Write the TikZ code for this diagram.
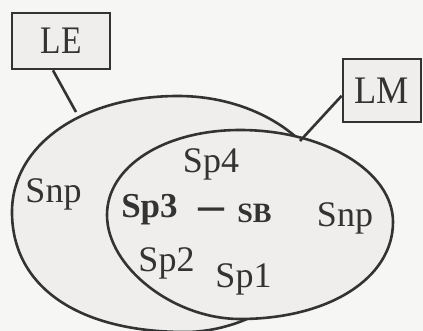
\documentclass[tikz,border=0pt]{standalone}
\usepackage{fontspec}
\setmainfont{Liberation Serif}
\usetikzlibrary{calc}
\definecolor{ink}{HTML}{333333}
\definecolor{paper}{HTML}{F6F6F5}
\definecolor{shade}{HTML}{EFEEEC}
\tikzset{
  outline/.style={draw=ink, line width=2.6pt, fill=shade},
  pointer/.style={draw=ink, line width=2.6pt},
  labelbox/.style={outline, rectangle, inner sep=0pt, font=\fontsize{39}{39}\selectfont, text=ink},
  lbl/.style={anchor=base, inner sep=0pt, text=ink, font=\fontsize{36}{36}\selectfont},
  lblb/.style={anchor=base, inner sep=0pt, text=ink, font=\fontsize{35}{35}\selectfont\bfseries},
}
\begin{document}
\begin{tikzpicture}[x=1pt,y=-1pt]
\useasboundingbox[fill=paper] (0,0) rectangle (423,331);
% big region LE
\draw[outline] (12,212) .. controls (12,145) and (82,96) .. (178,96)
  .. controls (264,96) and (335,150) .. (335,215)
  .. controls (335,270) and (262,332) .. (185,332)
  .. controls (77.7,332) and (12,286.4) .. (12,212) -- cycle;
\coordinate (leEnd) at (76,112);
\coordinate (lmEnd) at (300,141);
% small region LM
\draw[outline] (107,215) .. controls (107,166.5) and (164.2,130) .. (240,130)
  .. controls (324,130) and (393,171.4) .. (393,222)
  .. controls (393,278.3) and (328.7,319) .. (240,319)
  .. controls (173.5,319) and (107,267) .. (107,215) -- cycle;
% boxes
\node[labelbox, minimum width=98pt, minimum height=56pt] (LE) at (61,41) {\scalebox{0.86}[1]{LE}};
\node[labelbox, minimum width=78pt, minimum height=63pt] (LM) at (382,90.5) {\scalebox{0.93}[1]{LM}};
% pointers
\draw[pointer] ($(LE.south west)!0.42!(LE.south east)$) -- (leEnd);
\draw[pointer] ($(LM.north west)!0.58!(LM.south west)$) -- (lmEnd);
% labels
\node[lbl] (snpL) at (53.5,203) {Snp};
\node[lbl] (sp4) at (211,173) {Sp4};
\node[lblb] (sp3) at (149.5,218) {Sp3};
\node[anchor=center, inner sep=0pt, text=ink, font=\fontsize{26}{26}\selectfont\bfseries] (dash) at (211,214) {\scalebox{1}[1.8]{—}};
\node[anchor=base, inner sep=0pt, text=ink, font=\fontsize{28}{28}\selectfont\bfseries] (sb) at (254.5,223) {SB};
\node[lbl] (snpR) at (345,227) {Snp};
\node[lbl] (sp2) at (166.5,272) {Sp2};
\node[lbl] (sp1) at (243.5,287) {Sp1};
\end{tikzpicture}
\end{document}
